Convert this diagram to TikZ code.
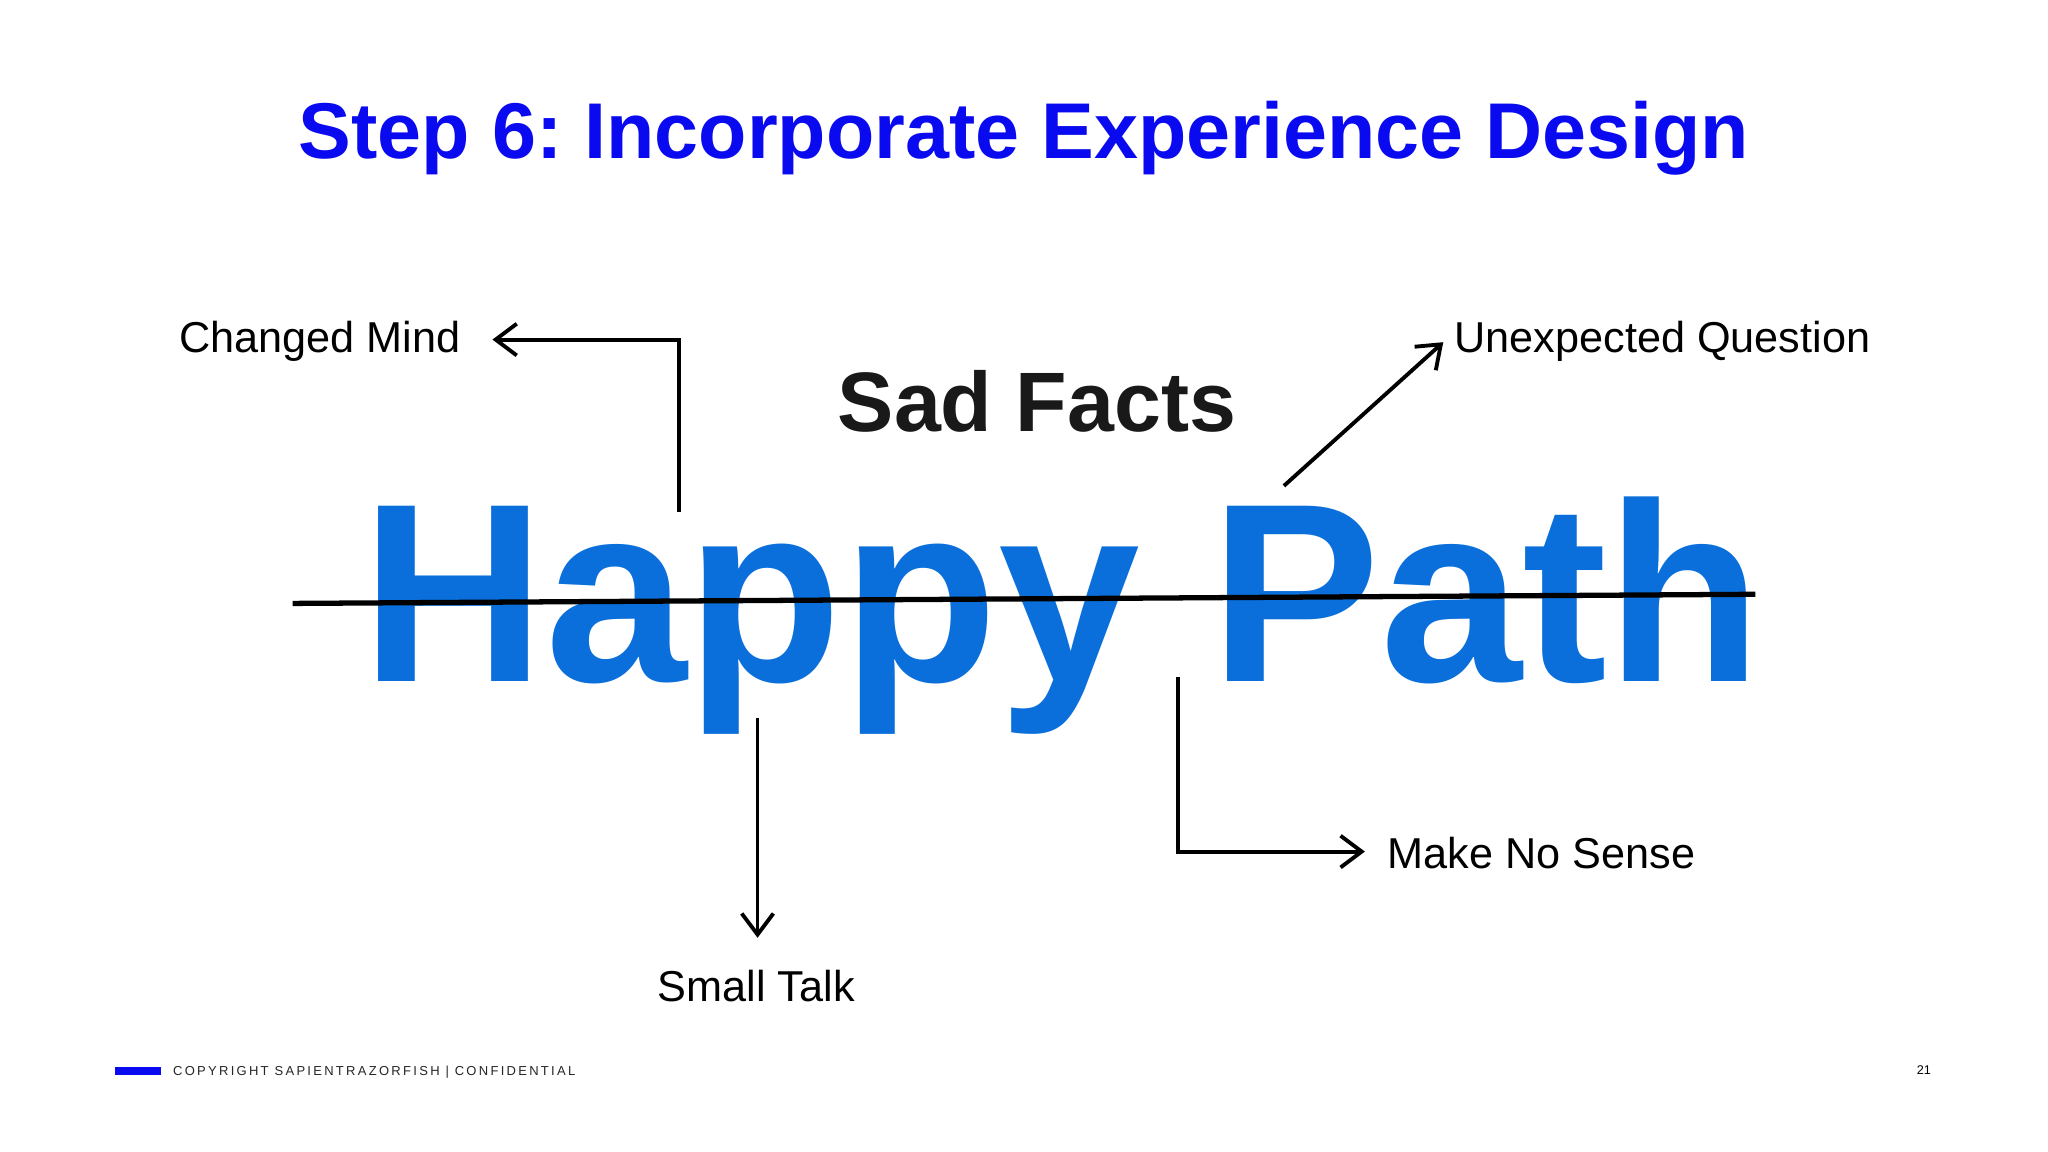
\documentclass[tikz,border=0pt]{standalone}
\usepackage{fontspec}
\setmainfont{Liberation Sans}
\usetikzlibrary{arrows.meta}
\definecolor{titleblue}{HTML}{0A0AF0}
\definecolor{happyblue}{HTML}{0A6FDB}
\frenchspacing
\begin{document}
\begin{tikzpicture}[x=0.01306cm,y=-0.01306cm,
  lbl/.style={inner sep=0pt,font=\fontsize{12.3}{14}\selectfont},
  conn/.style={line width=1.1pt,-{Straight Barb[length=6pt,width=9pt,line width=1.1pt]}}]
\useasboundingbox (0,0) rectangle (1568,882);
\fill[white] (0,0) rectangle (1568,882);
\node[inner sep=0pt,text=titleblue,font=\fontsize{22.5}{27}\selectfont\bfseries] (title) at (784,106) {Step 6: Incorporate Experience Design};
\node[inner sep=0pt,text=happyblue,font=\fontsize{72.5}{80}\selectfont\bfseries,anchor=base west] (happy) at (276,522) {Happy Path};
\node[inner sep=0pt,text=black!90,font=\fontsize{24}{28}\selectfont\bfseries] (sad) at (794,307) {Sad Facts};
\draw[line width=1.5pt] (224,462) coordinate (s1) -- (1344,455) coordinate (s2);
\node[lbl,anchor=east] (cm) at (353,261) {Changed Mind};
\node[lbl,anchor=west] (uq) at (1113,261) {Unexpected Question};
\node[lbl] (st) at (579,755) {Small Talk};
\node[lbl,anchor=west] (mn) at (1062,653) {Make No Sense};
\coordinate (a1) at (520,392); \coordinate (a1t) at (377,260);
\draw[conn] (a1) |- (a1t);
\coordinate (a2) at (983,372); \coordinate (a2t) at (1105,262);
\draw[conn] (a2) -- (a2t);
\coordinate (a3) at (580,550); \coordinate (a3t) at (580,718);
\draw[conn] (a3) -- (a3t);
\coordinate (a4) at (902,518); \coordinate (a4t) at (1045,652);
\draw[conn] (a4) |- (a4t);
\fill[titleblue] (88,817) rectangle (123,823);
\def\k{\kern.65pt}
\node[inner sep=0pt,anchor=west,font=\fontsize{3.7}{5}\selectfont,text=black!85] (foot) at (132,820.5) {C\k O\k P\k Y\k R\k I\k G\k H\k T\k{} S\k A\k P\k I\k E\k N\k T\k R\k A\k Z\k O\k R\k F\k I\k S\k H\k{} |\k{} C\k O\k N\k F\k I\k D\k E\k N\k T\k I\k A\k L};
\node[inner sep=0pt,font=\fontsize{3.6}{5}\selectfont] (pg) at (1473,819) {21};
\end{tikzpicture}
\end{document}
